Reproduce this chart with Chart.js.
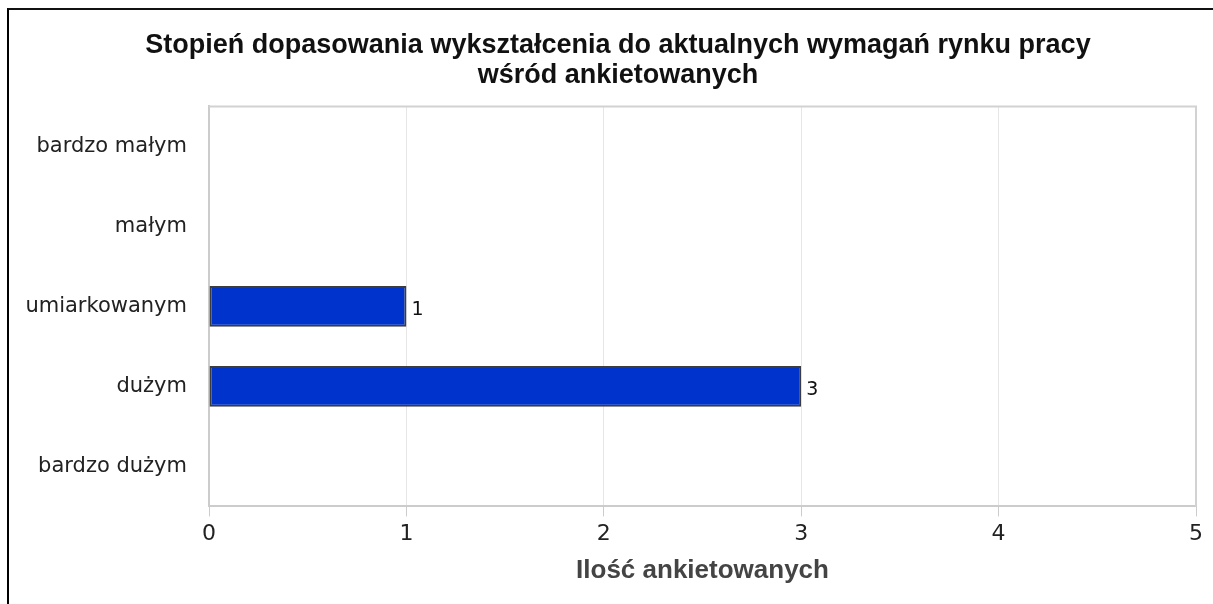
<!DOCTYPE html>
<html>
<head>
<meta charset="utf-8">
<script src="https://cdn.jsdelivr.net/npm/chart.js@4/dist/chart.umd.min.js"></script>
<style>
  html, body { margin: 0; padding: 0; background: #fff; overflow: hidden; }
  #wrap { position: relative; width: 1213px; height: 604px; }
  #frame {
    position: absolute; left: 7px; top: 8px; right: -10px; bottom: -10px;
    border-left: 2px solid #000; border-top: 2px solid #111;
    pointer-events: none;
  }
</style>
</head>
<body>
<div id="wrap">
  <canvas id="chart" width="1213" height="604"></canvas>
  <div id="frame"></div>
</div>
<script>
const titleLines = ['Stopień dopasowania wykształcenia do aktualnych wymagań rynku pracy', 'wśród ankietowanych'];
const categories = ['bardzo małym', 'małym', 'umiarkowanym', 'dużym', 'bardzo dużym'];
const counts = [0, 0, 1, 3, 0];
const xTitle = 'Ilość ankietowanych';
const xMin = 0;
const xMax = 5;

// the original centres its title a bit right of the canvas middle
const titleShift = {
  id: 'titleShift',
  afterLayout(chart) {
    if (chart.titleBlock) chart.titleBlock.left += 20;
  }
};

// light frame round the plot area
const plotFrame = {
  id: 'plotFrame',
  beforeDatasetsDraw(chart) {
    const { ctx, chartArea: a } = chart;
    ctx.save();
    ctx.strokeStyle = '#d2d2d2';
    ctx.lineWidth = 2;
    ctx.beginPath();
    ctx.moveTo(a.left, a.top);
    ctx.lineTo(a.right, a.top);
    ctx.lineTo(a.right, a.bottom);
    ctx.stroke();
    ctx.restore();
  }
};

// value written just right of each bar end
const barValues = {
  id: 'barValues',
  afterDatasetsDraw(chart) {
    const { ctx } = chart;
    const meta = chart.getDatasetMeta(0);
    ctx.save();
    ctx.font = '19px "DejaVu Sans"';
    ctx.fillStyle = '#111';
    ctx.textAlign = 'left';
    ctx.textBaseline = 'middle';
    meta.data.forEach((bar, i) => {
      if (!counts[i]) return;
      ctx.fillText(String(counts[i]), bar.x + 5, bar.y + 4);
    });
    ctx.restore();
  }
};

const ctx = document.getElementById('chart').getContext('2d');
new Chart(ctx, {
  type: 'bar',
  data: {
    labels: categories,
    datasets: [{
      data: counts,
      backgroundColor: '#0033cc',
      borderColor: '#3c3c3c',
      borderWidth: 2,
      borderSkipped: false,
      barPercentage: 0.51,
      categoryPercentage: 1
    }]
  },
  options: {
    indexAxis: 'y',
    responsive: false,
    animation: false,
    layout: { padding: { left: 20, right: 17, top: 20, bottom: 18 } },
    scales: {
      x: {
        min: xMin,
        max: xMax,
        ticks: { stepSize: 1, color: '#222', padding: 5, font: { family: 'DejaVu Sans', size: 22 } },
        grid: { color: '#e6e6e6', tickColor: '#cccccc', tickLength: 10, lineWidth: 1 },
        border: { color: '#cccccc', width: 2 },
        title: {
          display: true,
          text: xTitle,
          color: '#444',
          padding: { top: 2, bottom: 0 },
          font: { family: 'Liberation Sans', size: 26, weight: 'bold' }
        }
      },
      y: {
        afterFit(scale) { scale.width = 189; },
        ticks: { color: '#222', padding: 22, font: { family: 'DejaVu Sans', size: 21 } },
        grid: { display: false, drawTicks: false },
        border: { color: '#cccccc', width: 2 }
      }
    },
    plugins: {
      legend: { display: false },
      tooltip: { enabled: false },
      title: {
        display: true,
        text: titleLines,
        color: '#111',
        padding: { top: 10, bottom: 16 },
        font: { family: 'Liberation Sans', size: 27, weight: 'bold', lineHeight: 1.12 }
      }
    }
  },
  plugins: [titleShift, plotFrame, barValues]
});
</script>
</body>
</html>
